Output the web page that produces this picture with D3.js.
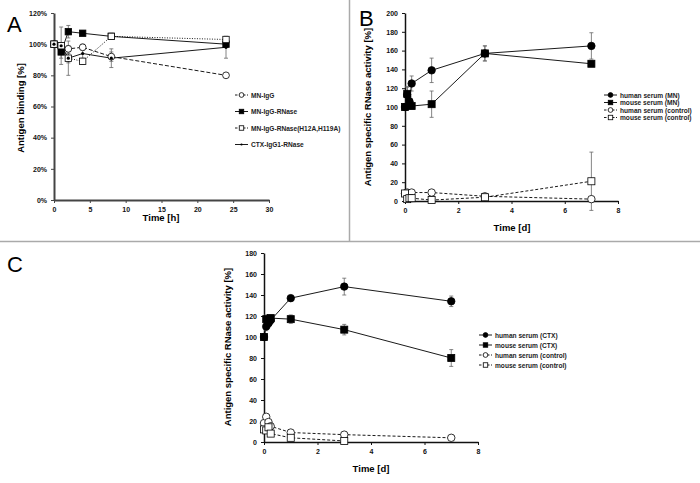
<!DOCTYPE html>
<html><head><meta charset="utf-8">
<script src="https://cdn.jsdelivr.net/npm/d3@7"></script>
<style>body{margin:0;background:#fff}svg{display:block}text{font-family:"Liberation Sans",Arial,sans-serif}</style>
</head><body><svg id="c" width="700" height="483"></svg>
<script>
// ---------- Panel A data (time in hours, % antigen binding) ----------
const timeA = [0, 1, 2, 4, 8, 24];
const mnIgG = [100, 99, 97, 98, 92, 80];
const mnIgGErr = [0, 2, 2, 2, 3, 1];
const mnIgGRNase = [100, 95, 108, 107, 105, 100];
const mnIgGRNaseErr = [0, 4, 4, 1, 2, 2];
const mnIgGRNaseMut = [100, 99, 91, 89, 105, 103];
const mnIgGRNaseMutErr = [0, 2, 3, 2, 1, 2];
const ctxRNase = [100, 99, 91, 94, 91, 98];
const ctxRNaseErr = [0, 12, 11, 4, 6, 7];
const ticksAx = [0, 5, 10, 15, 20, 25, 30];
const ticksAy = [0, 20, 40, 60, 80, 100, 120];

// ---------- Panel B data (time in days) ----------
const timeB = [0, 0.083, 0.167, 0.25, 1, 3, 7];
const humanMN = [100, 113, 106, 125, 139, 157, 165];
const humanMNErr = [0, 8, 5, 8, 13, 8, 14];
const mouseMN = [100, 114, 102, 101, 103, 157, 146];
const mouseMNErr = [0, 8, 4, 3, 14, 8, 3];
const humanCtrlB = [8, 9, 8, 9, 9, 5, 2];
const humanCtrlBErr = [0, 1, 1, 1, 1, 1, 1];
const mouseCtrlB = [8, 2, 3, 3, 1, 4, 21];
const mouseCtrlBErr = [0, 1, 1, 1, 1, 1, 31];
const ticksBx = [0, 2, 4, 6, 8];
const ticksBy = [0, 20, 40, 60, 80, 100, 120, 140, 160, 180, 200];

// ---------- Panel C data (time in days) ----------
const timeC = [0, 0.083, 0.167, 0.25, 1, 3, 7];
const humanCTX = [100, 110, 113, 116, 137, 148, 134];
const humanCTXErr = [0, 4, 4, 4, 2, 8, 5];
const mouseCTX = [100, 117, 116, 118, 117, 107, 80];
const mouseCTXErr = [0, 4, 4, 3, 4, 5, 8];
const humanCtrlC = [18, 24, 19, 15, 9, 7, 4];
const humanCtrlCErr = [0, 1, 1, 1, 1, 1, 1];
const mouseCtrlC = [12, 11, 14, 8, 4, 1, null];
const mouseCtrlCErr = [0, 1, 1, 1, 1, 1, 0];
const ticksCx = [0, 2, 4, 6, 8];
const ticksCy = [0, 20, 40, 60, 80, 100, 120, 140, 160, 180];

const svg = d3.select("#c");

// panel separators
svg.append("line").attr("x1", 349.5).attr("x2", 349.5).attr("y1", 0).attr("y2", 241).attr("stroke", "#aaa").attr("stroke-width", 1.5);
svg.append("line").attr("x1", 0).attr("x2", 700).attr("y1", 241.5).attr("y2", 241.5).attr("stroke", "#aaa").attr("stroke-width", 1.5);

function marker(g, type, x, y, s) {
  s = s || 1;
  if (type === "circleOpen" || type === "circleFilled") {
    g.append("circle").attr("cx", x).attr("cy", y).attr("r", 3.4 * s)
      .attr("fill", type === "circleOpen" ? "#fff" : "#000").attr("stroke", "#000").attr("stroke-width", 0.8);
  } else if (type === "squareOpen" || type === "squareFilled") {
    const h = 3.2 * s;
    g.append("rect").attr("x", x - h).attr("y", y - h).attr("width", 2 * h).attr("height", 2 * h)
      .attr("fill", type === "squareOpen" ? "#fff" : "#000").attr("stroke", "#000").attr("stroke-width", 0.8);
  } else if (type === "dot") {
    g.append("circle").attr("cx", x).attr("cy", y).attr("r", 1.6 * s).attr("fill", "#000");
  }
}

function panel(cfg) {
  const g = svg.append("g");
  const x = d3.scaleLinear().domain(cfg.xDomain).range(cfg.xRange);
  const y = d3.scaleLinear().domain(cfg.yDomain).range(cfg.yRange);
  const fs = 7;
  // axes
  const ax = g.append("g").attr("transform", `translate(0,${cfg.yRange[0]})`)
    .call(d3.axisBottom(x).tickValues(cfg.xTicks).tickSize(3).tickSizeOuter(0).tickPadding(4).tickFormat(d3.format("d")));
  const ay = g.append("g").attr("transform", `translate(${cfg.xRange[0]},0)`)
    .call(d3.axisLeft(y).tickValues(cfg.yTicks).tickSize(3).tickSizeOuter(0).tickPadding(4).tickFormat(cfg.yFmt));
  [ax, ay].forEach(a => {
    a.select(".domain").attr("stroke", cfg.axisColor).attr("stroke-width", cfg.axisW);
    a.selectAll(".tick line").attr("stroke", cfg.axisColor).attr("stroke-width", 1);
    a.selectAll("text").attr("font-size", fs).attr("font-weight", "bold").attr("fill", "#111")
      .style("font-family", '"Liberation Sans",Arial,sans-serif');
  });
  // axis titles
  g.append("text").attr("x", cfg.xTitlePos[0]).attr("y", cfg.xTitlePos[1]).attr("text-anchor", "middle")
    .attr("font-size", 9.5).attr("font-weight", "bold").text(cfg.xTitle);
  g.append("text").attr("transform", `translate(${cfg.yTitlePos[0]},${cfg.yTitlePos[1]}) rotate(-90)`)
    .attr("text-anchor", "middle").attr("font-size", 9.5).attr("font-weight", "bold").text(cfg.yTitle);
  // panel letter
  g.append("text").attr("x", cfg.letterPos[0]).attr("y", cfg.letterPos[1]).attr("font-size", 22).text(cfg.letter);

  const line = d3.line().defined(d => d.v != null).x(d => x(d.t)).y(d => y(d.v));
  cfg.series.forEach(s => {
    const pts = cfg.time.map((t, i) => ({ t, v: s.values[i], e: s.err[i] }));
    g.append("path").datum(pts).attr("d", line).attr("fill", "none").attr("stroke", "#000")
      .attr("stroke-width", 0.9).attr("stroke-dasharray", s.dash || null);
  });
  cfg.series.forEach(s => {
    const pts = cfg.time.map((t, i) => ({ t, v: s.values[i], e: s.err[i] })).filter(d => d.v != null && d.e > 0);
    pts.forEach(d => {
      const xx = x(d.t);
      g.append("line").attr("x1", xx).attr("x2", xx).attr("y1", y(d.v - d.e)).attr("y2", y(d.v + d.e)).attr("stroke", "#666").attr("stroke-width", 0.8);
      [d.v - d.e, d.v + d.e].forEach(v => g.append("line").attr("x1", xx - 2).attr("x2", xx + 2).attr("y1", y(v)).attr("y2", y(v)).attr("stroke", "#666").attr("stroke-width", 0.8));
    });
  });
  cfg.series.forEach(s => {
    cfg.time.forEach((t, i) => { if (s.values[i] != null) marker(g, s.marker, x(t), y(s.values[i]), cfg.mScale); });
  });
  // legend
  cfg.series.forEach((s, i) => {
    const ly = cfg.legend.y + i * cfg.legend.dy;
    const lx = cfg.legend.x;
    g.append("line").attr("x1", lx).attr("x2", lx + 13).attr("y1", ly).attr("y2", ly).attr("stroke", "#000")
      .attr("stroke-width", 0.9).attr("stroke-dasharray", s.dash ? "2.5,1.5" : null);
    marker(g, s.marker, lx + 6.5, ly, 0.7);
    g.append("text").attr("x", lx + 16).attr("y", ly + 2.5).attr("font-size", 6.6).attr("font-weight", "bold").attr("fill", "#222").text(s.name);
  });
}

panel({
  letter: "A", letterPos: [7, 32],
  xDomain: [0, 30], xRange: [54, 269], yDomain: [0, 120], yRange: [200, 13],
  xTicks: ticksAx, yTicks: ticksAy, yFmt: d => d + "%",
  axisColor: "#444", axisW: 2, mScale: 1,
  xTitle: "Time [h]", xTitlePos: [161, 221], yTitle: "Antigen binding [%]", yTitlePos: [24, 108],
  time: timeA,
  legend: { x: 235, y: 95, dy: 16.5 },
  series: [
    { name: "MN-IgG", values: mnIgG, err: mnIgGErr, marker: "circleOpen", dash: "4,2" },
    { name: "MN-IgG-RNase", values: mnIgGRNase, err: mnIgGRNaseErr, marker: "squareFilled" },
    { name: "MN-IgG-RNase(H12A,H119A)", values: mnIgGRNaseMut, err: mnIgGRNaseMutErr, marker: "squareOpen", dash: "1,1.5" },
    { name: "CTX-IgG1-RNase", values: ctxRNase, err: ctxRNaseErr, marker: "dot" }
  ]
});

panel({
  letter: "B", letterPos: [359, 26],
  xDomain: [0, 8], xRange: [405, 618], yDomain: [0, 200], yRange: [201, 13],
  xTicks: ticksBx, yTicks: ticksBy, yFmt: d3.format("d"),
  axisColor: "#111", axisW: 1.5, mScale: 1.1,
  xTitle: "Time [d]", xTitlePos: [512, 231], yTitle: "Antigen specific RNase activity [%]", yTitlePos: [371, 107],
  time: timeB,
  legend: { x: 604, y: 95, dy: 7.5 },
  series: [
    { name: "human serum (MN)", values: humanMN, err: humanMNErr, marker: "circleFilled" },
    { name: "mouse serum (MN)", values: mouseMN, err: mouseMNErr, marker: "squareFilled" },
    { name: "human serum (control)", values: humanCtrlB, err: humanCtrlBErr, marker: "circleOpen", dash: "3,2" },
    { name: "mouse serum (control)", values: mouseCtrlB, err: mouseCtrlBErr, marker: "squareOpen", dash: "3,2" }
  ]
});

panel({
  letter: "C", letterPos: [7, 272],
  xDomain: [0, 8], xRange: [264, 478], yDomain: [0, 180], yRange: [442, 253],
  xTicks: ticksCx, yTicks: ticksCy, yFmt: d3.format("d"),
  axisColor: "#111", axisW: 1.5, mScale: 1.1,
  xTitle: "Time [d]", xTitlePos: [371, 472], yTitle: "Antigen specific RNase activity [%]", yTitlePos: [231, 347],
  time: timeC,
  legend: { x: 479, y: 335, dy: 10 },
  series: [
    { name: "human serum (CTX)", values: humanCTX, err: humanCTXErr, marker: "circleFilled" },
    { name: "mouse serum (CTX)", values: mouseCTX, err: mouseCTXErr, marker: "squareFilled" },
    { name: "human serum (control)", values: humanCtrlC, err: humanCtrlCErr, marker: "circleOpen", dash: "3,2" },
    { name: "mouse serum (control)", values: mouseCtrlC, err: mouseCtrlCErr, marker: "squareOpen", dash: "3,2" }
  ]
});
</script>
</body></html>
